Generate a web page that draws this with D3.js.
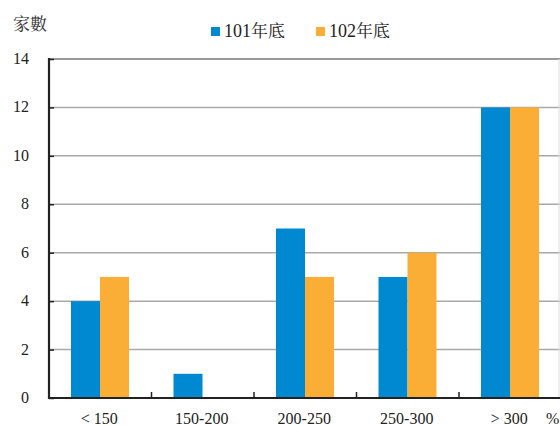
<!DOCTYPE html>
<html>
<head>
<meta charset="utf-8">
<script src="https://cdn.jsdelivr.net/npm/d3@7/dist/d3.min.js"></script>
<style>
  html, body { margin: 0; padding: 0; background: #fff; }
  svg { display: block; }
</style>
</head>
<body>
<svg id="chart" width="560" height="426"></svg>
<script>
// Number of companies by ratio range (%)
const categories = ["< 150", "150-200", "200-250", "250-300", "> 300"];
const seriesNames = ["101年底", "102年底"];
const values101 = [4, 1, 7, 5, 12];
const values102 = [5, 0, 5, 6, 12];
const yTicks = [0, 2, 4, 6, 8, 10, 12, 14];
const colors = ["#0088d0", "#fbae35"];

const serif = '"Liberation Serif"';
const cjk = '"Noto Serif CJK TC"';

const svg = d3.select("#chart");
const margin = { left: 49, top: 59, bottom: 398 };
const bandW = 102.5;

const x = d3.scaleBand()
  .domain(categories)
  .range([margin.left, margin.left + bandW * categories.length])
  .paddingInner(0).paddingOuter(0);

const y = d3.scaleLinear().domain([0, 14]).range([margin.bottom, margin.top]);

const xSub = d3.scaleBand().domain(seriesNames)
  .range([22, 22 + 58]);

// gridlines
svg.append("g").selectAll("line")
  .data(yTicks.filter(d => d > 0 && d < 14))
  .join("line")
  .attr("x1", margin.left).attr("x2", 560)
  .attr("y1", d => y(d)).attr("y2", d => y(d))
  .attr("stroke", "#a9a9a9").attr("stroke-width", 1.5);

// top border
svg.append("line")
  .attr("x1", margin.left).attr("x2", 560)
  .attr("y1", y(14)).attr("y2", y(14))
  .attr("stroke", "#999").attr("stroke-width", 2);

// right edge
svg.append("line")
  .attr("x1", 559).attr("x2", 559)
  .attr("y1", y(14)).attr("y2", margin.bottom)
  .attr("stroke", "#ddd").attr("stroke-width", 1);

// bars
const series = [values101, values102];
series.forEach((vals, si) => {
  svg.append("g").selectAll("rect")
    .data(vals.map((v, i) => ({ v, c: categories[i] })))
    .join("rect")
    .attr("x", d => x(d.c) + xSub(seriesNames[si]))
    .attr("width", xSub.bandwidth())
    .attr("y", d => y(d.v))
    .attr("height", d => y(0) - y(d.v))
    .attr("fill", colors[si]);
});

// y axis
const yAxis = d3.axisRight(y).tickValues(yTicks).tickSize(5).tickFormat("");
const gy = svg.append("g").attr("transform", `translate(${margin.left},0)`).call(yAxis);
gy.select(".domain").remove();
gy.selectAll(".tick line").attr("stroke", "#222").attr("stroke-width", 1.5);
svg.append("line")
  .attr("x1", margin.left).attr("x2", margin.left)
  .attr("y1", y(14) - 1).attr("y2", margin.bottom + 1)
  .attr("stroke", "#222").attr("stroke-width", 2.2);

svg.append("g").selectAll("text")
  .data(yTicks)
  .join("text")
  .attr("x", 29).attr("y", d => y(d) + 5)
  .attr("text-anchor", "end")
  .style("font-family", serif)
  .style("font-size", "16px")
  .attr("fill", "#222")
  .text(d => d);

// x axis
const xTickPos = categories.slice(1).map(c => x(c));
svg.append("line")
  .attr("x1", margin.left - 1).attr("x2", 560)
  .attr("y1", margin.bottom).attr("y2", margin.bottom)
  .attr("stroke", "#222").attr("stroke-width", 2.2);
svg.append("g").selectAll("line")
  .data(xTickPos)
  .join("line")
  .attr("x1", d => d).attr("x2", d => d)
  .attr("y1", margin.bottom).attr("y2", margin.bottom - 6)
  .attr("stroke", "#222").attr("stroke-width", 1.5);

svg.append("g").selectAll("text")
  .data(categories)
  .join("text")
  .attr("x", d => x(d) + x.bandwidth() / 2 - 1)
  .attr("y", 424)
  .attr("text-anchor", "middle")
  .style("font-family", serif)
  .style("font-size", "16px")
  .attr("fill", "#222")
  .text(d => d);

svg.append("text")
  .attr("x", 546).attr("y", 424)
  .style("font-family", serif)
  .style("font-size", "16px")
  .attr("fill", "#222")
  .text("%");

// y title
svg.append("text")
  .attr("x", 13).attr("y", 30)
  .style("font-family", cjk)
  .style("font-size", "17px")
  .attr("fill", "#333")
  .text("家數");

// legend
const legendX = [211, 316];
seriesNames.forEach((n, i) => {
  svg.append("rect")
    .attr("x", legendX[i]).attr("y", 27)
    .attr("width", 9).attr("height", 9)
    .attr("fill", colors[i]);
  const t = svg.append("text")
    .attr("x", legendX[i] + 13).attr("y", 37)
    .style("font-family", serif)
    .style("font-size", "18px")
    .attr("fill", "#222");
  t.append("tspan").text(n.slice(0, 3));
  t.append("tspan").style("font-family", cjk).style("font-size", "17px").text(n.slice(3));
});
</script>
</body>
</html>
